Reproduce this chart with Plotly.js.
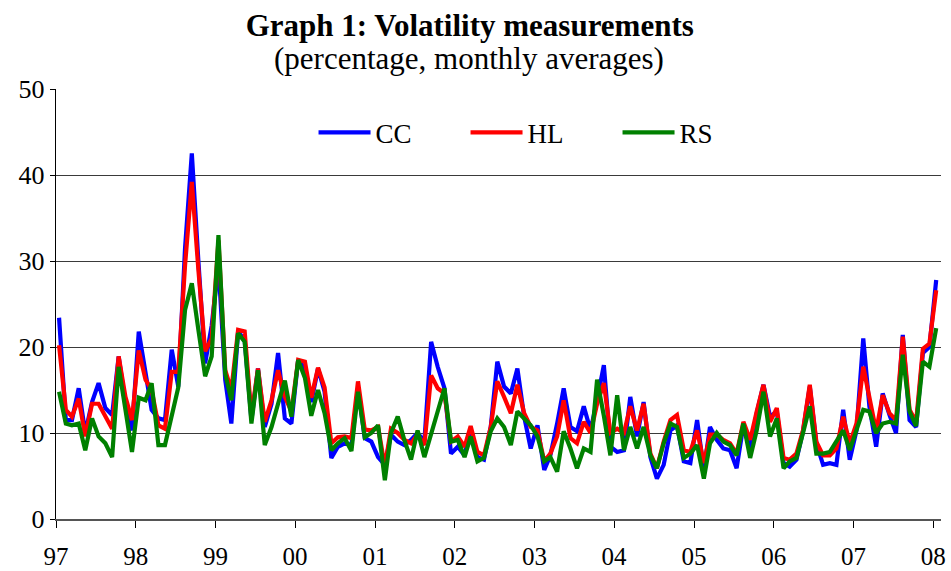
<!DOCTYPE html>
<html>
<head>
<meta charset="utf-8">
<script src="https://cdn.plot.ly/plotly-3.0.1.min.js"></script>
<style>html,body{margin:0;padding:0;background:#fff;}#chart{width:951px;height:571px;}</style>
</head>
<body>
<div id="chart"></div>
<script>
// Monthly observations, January 1997 to January 2008
var startYear = 1997;
var startMonth = 1;
var nMonths = 133;

var titleText = "Graph 1: Volatility measurements";
var subtitleText = "(percentage, monthly averages)";
var seriesNames = ["CC", "HL", "RS"];

var CC = [23.4,11.5,11.5,15.2,10.0,13.6,15.8,12.9,12.1,18.9,13.4,10.3,
21.8,17.3,12.7,11.7,11.5,19.7,15.4,31.5,42.5,30.0,18.1,22.5,
29.5,16.2,11.1,21.8,20.8,11.5,17.5,10.7,13.4,19.3,11.7,11.1,
18.5,17.5,13.6,17.5,14.8,7.1,8.4,8.8,8.6,15.2,9.4,9.0,
7.2,6.3,9.8,9.0,8.6,9.2,10.0,9.0,20.6,17.7,15.2,7.6,
8.4,7.4,10.5,7.2,6.9,10.7,18.3,15.4,14.6,17.5,11.9,8.2,
10.9,5.7,7.4,11.1,15.2,10.7,10.2,13.1,10.3,13.8,17.9,8.4,
7.8,8.0,14.2,9.6,13.6,7.2,4.7,6.3,10.3,10.9,6.7,6.5,
11.5,5.7,10.7,9.2,8.2,8.0,5.9,10.9,8.0,12.3,15.6,11.9,
12.5,6.5,6.1,6.9,10.2,15.4,8.8,6.3,6.5,6.3,12.7,6.9,
10.3,21.0,13.1,8.4,14.6,12.1,10.0,21.4,11.5,10.7,19.3,20.0,
27.8];

var HL = [20.2,12.7,11.9,14.0,9.6,13.4,13.4,11.9,10.5,18.9,14.2,11.5,
19.6,16.2,15.0,10.9,10.5,17.1,17.1,29.5,39.2,29.0,19.5,21.0,
32.4,17.3,15.0,22.0,21.8,12.0,17.5,11.3,13.8,17.3,14.2,12.5,
18.5,18.3,14.1,17.6,15.3,8.8,9.5,9.6,9.4,16.0,10.4,10.3,
10.7,6.1,10.5,10.0,9.2,8.8,9.8,8.6,16.7,15.2,14.6,9.0,
9.6,8.4,10.8,7.8,7.4,10.7,16.0,14.2,12.3,15.6,12.3,10.7,
10.3,6.7,7.6,9.6,13.8,9.4,8.8,11.3,10.0,13.4,15.8,10.0,
10.5,10.0,13.1,10.3,13.4,7.6,5.9,9.0,11.5,12.1,8.0,7.8,
10.3,6.5,9.8,9.8,9.2,8.8,7.6,11.3,9.2,12.5,15.6,11.3,
12.9,7.1,6.9,7.6,10.3,15.6,9.0,7.4,7.4,8.2,11.9,8.8,
11.1,17.7,14.0,10.2,14.4,12.3,11.5,21.2,12.7,11.3,19.8,20.4,
26.6];

var RS = [14.8,11.1,10.9,11.1,8.0,11.7,9.6,8.8,7.2,17.7,12.7,7.8,
14.1,13.8,15.8,8.6,8.6,11.9,15.3,24.3,27.4,22.0,16.6,18.9,
33.0,16.9,13.8,21.6,20.6,11.1,17.3,8.6,10.7,13.4,16.1,11.9,
18.5,16.4,12.0,15.0,12.3,8.0,8.8,9.4,7.9,14.8,9.5,10.0,
10.9,4.5,10.0,11.9,9.2,6.9,10.3,7.2,10.0,12.5,15.2,9.0,
9.2,7.2,9.6,6.7,7.1,10.2,11.7,10.7,8.6,12.5,11.7,10.9,
9.6,6.7,7.2,5.5,10.2,8.2,5.9,8.2,7.8,16.2,12.0,7.4,
14.4,8.0,10.7,8.2,10.7,7.4,5.9,8.8,11.1,10.7,7.1,7.6,
8.6,4.7,8.8,10.0,9.0,8.6,7.4,11.1,7.1,10.3,14.8,9.6,
11.7,5.9,6.7,7.1,10.0,13.1,7.6,7.6,7.8,9.0,10.3,8.0,
10.5,12.7,12.5,10.0,11.1,11.3,11.1,19.1,12.5,10.8,18.3,17.7,
22.2];

var yTickVals = [0, 10, 20, 30, 40, 50];
var yTickText = ["0", "10", "20", "30", "40", "50"];
var xTickVals = ["1997-01-01","1998-01-01","1999-01-01","2000-01-01","2001-01-01","2002-01-01",
                 "2003-01-01","2004-01-01","2005-01-01","2006-01-01","2007-01-01","2008-01-01"];
var xTickText = ["97","98","99","00","01","02","03","04","05","06","07","08"];

function pad(n){ return (n < 10 ? "0" : "") + n; }
var months = [];
for (var i = 0; i < nMonths; i++) {
  var y = startYear + Math.floor((startMonth - 1 + i) / 12);
  var m = ((startMonth - 1 + i) % 12) + 1;
  months.push(y + "-" + pad(m) + "-15");
}

var colors = ["#0000FF", "#FF0000", "#008000"];
var values = [CC, HL, RS];
var traces = values.map(function(v, k){
  return {
    x: months, y: v, name: seriesNames[k], type: "scatter", mode: "lines",
    line: {color: colors[k], width: 4.2, shape: "linear"},
    hoverinfo: "skip"
  };
});

var serif = "Liberation Serif, Times New Roman, serif";
var layout = {
  width: 951, height: 571,
  paper_bgcolor: "#ffffff", plot_bgcolor: "#ffffff",
  margin: {l: 56, r: 10, t: 89, b: 52, pad: 0},
  showlegend: true,
  title: {
    text: "<b>" + titleText + "</b>",
    font: {family: serif, size: 31, color: "#000"},
    x: 0.494, xref: "container", xanchor: "center",
    y: 0.956, yref: "container", yanchor: "middle"
  },
  annotations: [{
    text: subtitleText, xref: "paper", yref: "paper",
    x: 0.4667, y: 1.072, xanchor: "center", yanchor: "middle",
    showarrow: false, font: {family: serif, size: 31, color: "#000"}
  }],
  legend: {
    orientation: "h", x: 0.291, xanchor: "left", y: 0.898, yanchor: "middle",
    font: {family: serif, size: 27, color: "#000"},
    bgcolor: "rgba(0,0,0,0)", itemwidth: 52, entrywidth: 85, entrywidthmode: "pixels",
    itemclick: false
  },
  xaxis: {
    type: "date",
    range: ["1997-01-01", "2008-02-06"],
    tickmode: "array", tickvals: xTickVals, ticktext: xTickText,
    ticks: "outside", ticklen: 7, tickcolor: "#000", tickwidth: 1,
    showgrid: false, zeroline: false,
    showline: true, linecolor: "#555", linewidth: 1.5,
    tickfont: {family: serif, size: 25, color: "#000"},
    ticklabelstandoff: 7,
    fixedrange: true
  },
  yaxis: {
    range: [0, 50],
    tickmode: "array", tickvals: yTickVals, ticktext: yTickText,
    ticks: "outside", ticklen: 5, tickcolor: "#000", tickwidth: 1,
    showgrid: true, gridcolor: "#3a3a3a", gridwidth: 1,
    zeroline: false,
    showline: true, linecolor: "#000", linewidth: 1.2,
    tickfont: {family: serif, size: 26, color: "#000"},
    fixedrange: true
  }
};

Plotly.newPlot("chart", traces, layout, {displayModeBar: false, staticPlot: true});
</script>
</body>
</html>
